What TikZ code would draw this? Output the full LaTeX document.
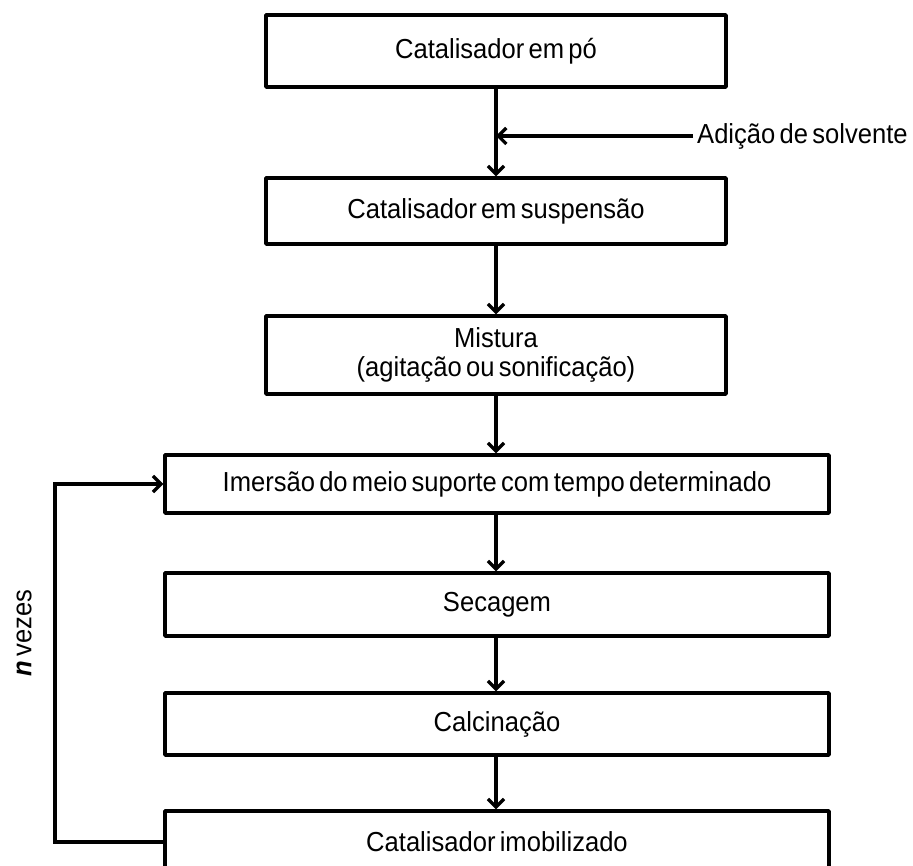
\documentclass[tikz,border=0pt]{standalone}
\usepackage{fontspec}
\setmainfont{Liberation Sans}[FakeStretch=0.93, WordSpace=0.6]
\usetikzlibrary{arrows.meta}
\begin{document}
\begin{tikzpicture}[x=1pt, y=1pt, >={Straight Barb[length=8pt,width=16pt]},
  caixa/.style={draw, line width=3.4pt, line join=round, inner sep=0pt,
    minimum width=460pt, align=center, font=\fontsize{27.5}{30}\selectfont},
  caixalarga/.style={caixa, minimum width=664pt},
  seta/.style={->, line width=3.3pt}]
  \useasboundingbox (0,0) rectangle (913,866);
  % Caixas do fluxograma
  \node[caixa, minimum height=72pt] (po) at (496,815) {Catalisador em pó};
  \node[caixa, minimum height=66pt] (susp) at (496,655) {Catalisador em suspensão};
  \node[caixa, minimum height=78pt] (mist) at (496,511) {Mistura\\[-1pt](agitação ou sonificação)};
  \node[caixalarga, minimum height=58pt] (imers) at (497,382) {Imersão do meio suporte com tempo determinado};
  \node[caixalarga, minimum height=63pt] (secag) at (497,261.5) {Secagem};
  \node[caixalarga, minimum height=62pt] (calc) at (497,142) {Calcinação};
  \node[caixalarga, minimum height=62pt] (imob) at (497,24) {Catalisador imobilizado};
  % Entrada de solvente
  \node[anchor=west, inner sep=4pt, font=\fontsize{27.5}{30}\selectfont] (solv) at (693,730) {Adição de solvente};
  % Setas
  \draw[seta] (po) -- (susp);
  \draw[seta] (solv.west) -- (solv.west -| po.south);
  \draw[seta] (susp) -- (mist);
  \draw[seta] (mist.south) -- (mist.south |- imers.north);
  \draw[seta] (imers.south -| mist.south) -- (secag.north -| mist.south);
  \draw[seta] (secag.south -| mist.south) -- (calc.north -| mist.south);
  \draw[seta] (calc.south -| mist.south) -- (imob.north -| mist.south);
  % Repeticao
  \coordinate (laco) at (55,24);
  \draw[seta] (imob.west) -- (laco) |- (imers.west);
  \node[rotate=90, inner sep=0pt, font=\fontsize{27.5}{30}\selectfont] (nvezes) at (24,233) {\textbf{\textit{n}}\,vezes};
\end{tikzpicture}
\end{document}
